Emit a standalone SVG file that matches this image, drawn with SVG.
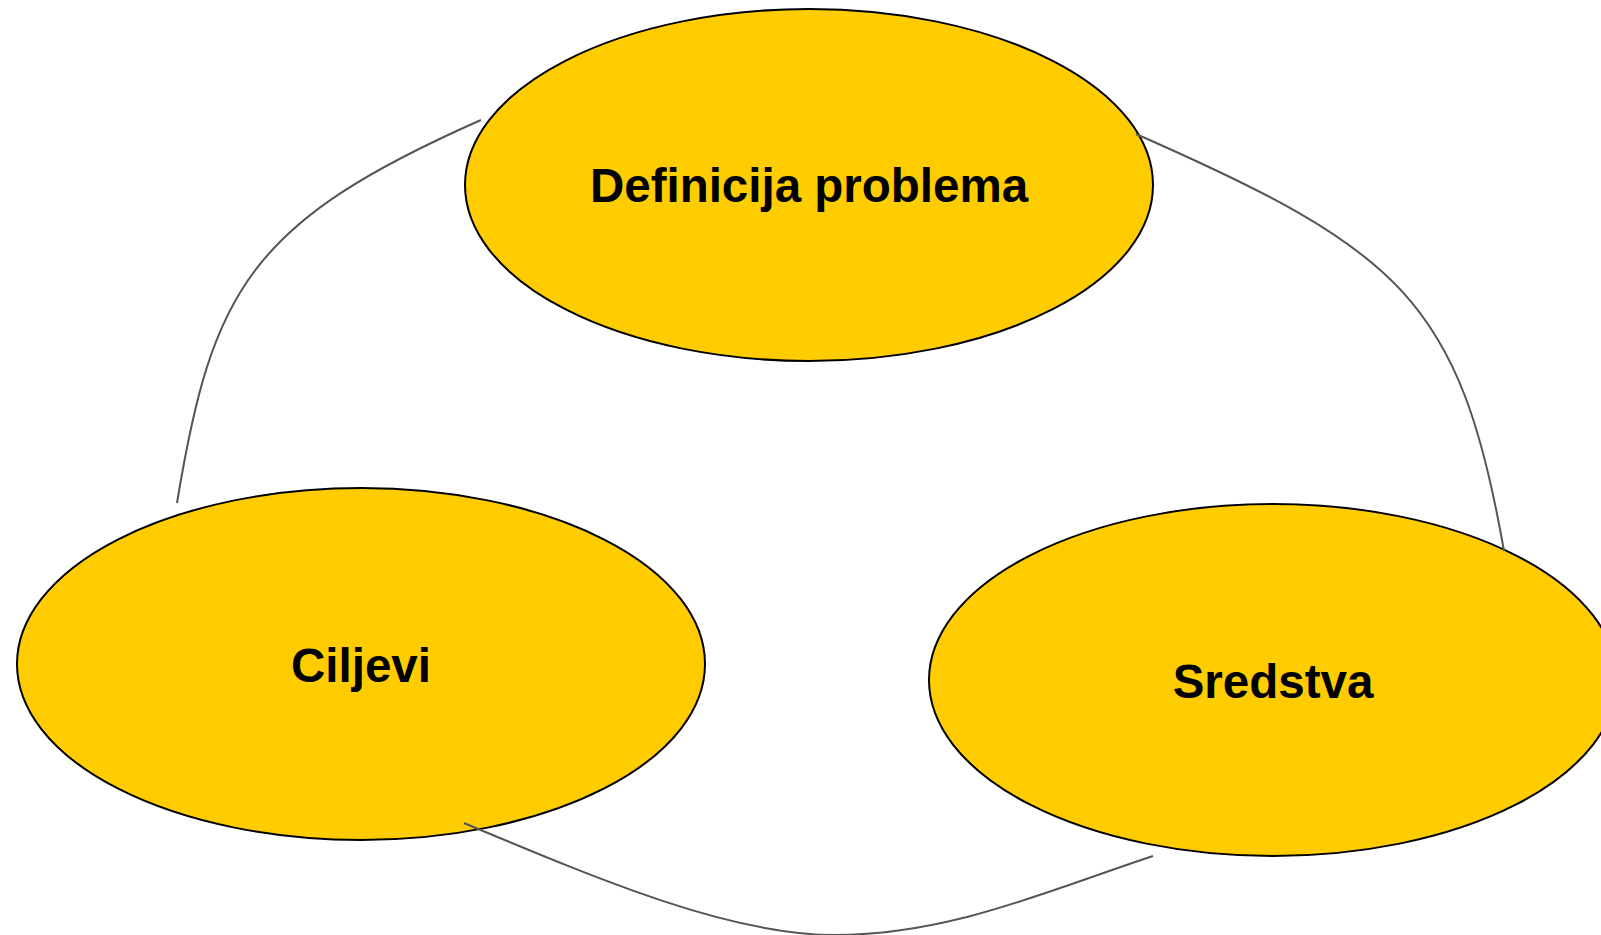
<svg xmlns="http://www.w3.org/2000/svg" width="1601" height="935" viewBox="0 0 1601 935">
<style>
.node ellipse{fill:#FFCC00;stroke:#000;stroke-width:2}
.node text{font-family:"Liberation Sans",Arial,sans-serif;font-weight:bold;font-size:47.5px;fill:#000;text-anchor:middle}
.conn path{fill:none;stroke:#555;stroke-width:2}
</style>
<rect width="1601" height="935" fill="#fff"/>
<g id="node-definicija" class="node">
<ellipse cx="809" cy="185" rx="344" ry="176"/>
<text x="809" y="202">Definicija problema</text>
</g>
<g id="node-ciljevi" class="node">
<ellipse cx="361" cy="664" rx="344" ry="176"/>
<text x="361" y="682">Ciljevi</text>
</g>
<g id="node-sredstva" class="node">
<ellipse cx="1273" cy="680" rx="344" ry="176"/>
<text x="1273" y="698">Sredstva</text>
</g>
<g id="connectors" class="conn">
<path d="M481,120 C250,222 212,290 177,503"/>
<path d="M1136,134 C1400,250 1460,300 1504,551"/>
<path d="M464,823 C600,880 730,935 835,935 C950,935 1050,890 1153,856"/>
</g>
</svg>
